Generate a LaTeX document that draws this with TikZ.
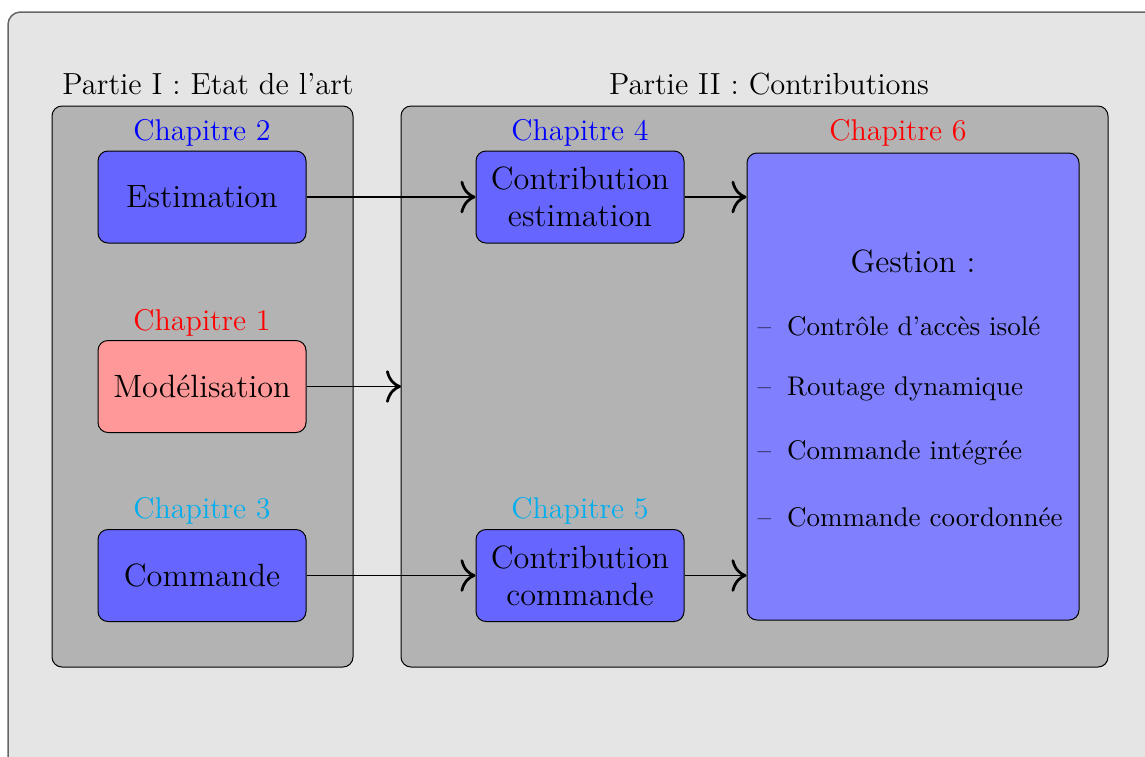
\documentclass[tikz,border=0pt]{standalone}
\usepackage{fontspec}
\usetikzlibrary{arrows.meta}
\definecolor{bgouter}{RGB}{229,229,229}
\definecolor{panel}{RGB}{179,179,179}
\definecolor{boxblue}{RGB}{102,102,255}
\definecolor{gestblue}{RGB}{128,128,255}
\definecolor{boxred}{RGB}{255,153,153}
\definecolor{chapcyan}{RGB}{0,174,239}
\tikzset{
  panelbox/.style={draw=black, fill=panel, rounded corners=4pt, line width=0.4pt},
  chapbox/.style={draw=black, rounded corners=4pt, minimum width=208*0.4pt, minimum height=92*0.4pt,
    align=center, font=\fontsize{12.9}{14.9}\selectfont, inner sep=0pt, line width=0.4pt},
  chaplabel/.style={font=\fontsize{12}{14}\selectfont},
  parttitle/.style={font=\fontsize{12.2}{14}\selectfont},
  flow/.style={draw=black, line width=0.5pt, -{Computer Modern Rightarrow[length=6pt, width=13pt, line width=1.1pt]}},
}
\begin{document}
\begin{tikzpicture}[x=0.4pt, y=-0.4pt]
\useasboundingbox (0,0) rectangle (1145,756);
% background sheet, running off the right and bottom edges
\draw[draw=gray!80!black, fill=bgouter, rounded corners=5pt, line width=0.6pt] (8,12) rectangle (1175,790);

% the two parts
\node[parttitle] (t1) at (208,84) {Partie I : Etat de l'art};
\node[parttitle] (t2) at (769,84) {Partie II : Contributions};
\draw[panelbox] (52,106) rectangle (353,667);
\draw[panelbox] (401,106) rectangle (1108,667);
\coordinate (p2west) at (401,386.5);

% state of the art chapters
\node[chaplabel, text=blue] (c2) at (202,133) {Chapitre 2};
\node[chapbox, fill=boxblue] (est) at (202,197) {Estimation};
\node[chaplabel, text=red] (c1) at (202,323) {Chapitre 1};
\node[chapbox, fill=boxred] (mod) at (202,386.5) {Modélisation};
\node[chaplabel, text=chapcyan] (c3) at (202,511) {Chapitre 3};
\node[chapbox, fill=boxblue] (com) at (202,575.5) {Commande};

% contribution chapters
\node[chaplabel, text=blue] (c4) at (580,133) {Chapitre 4};
\node[chapbox, fill=boxblue] (cest) at (580,197) {Contribution\\estimation};
\node[chaplabel, text=chapcyan] (c5) at (580,511) {Chapitre 5};
\node[chapbox, fill=boxblue] (ccom) at (580,575.5) {Contribution\\commande};

\node[chaplabel, text=red] (c6) at (898,133) {Chapitre 6};
\node[draw=black, fill=gestblue, rounded corners=4pt, minimum width=332*0.4pt, minimum height=467*0.4pt,
  inner sep=0pt, line width=0.4pt] (gest) at (913,386.5) {};
\node[font=\fontsize{12.9}{15}\selectfont] (gtitle) at (913,261) {Gestion :};
\foreach \y/\txt [count=\i] in {326/{Contrôle d'accès isolé}, 389/{Routage dynamique},
    453/{Commande intégrée}, 517/{Commande coordonnée}} {
  \node[anchor=west, inner sep=0pt, font=\fontsize{10.8}{13}\selectfont] (item\i) at (757,\y) {–\hspace{0.6em}\txt};
}

% connectors
\coordinate (gin1) at (gest.west |- cest.east);
\coordinate (gin2) at (gest.west |- ccom.east);
\draw[flow] (est.east) -- (cest.west);
\draw[flow] (mod.east) -- (p2west);
\draw[flow] (com.east) -- (ccom.west);
\draw[flow] (cest.east) -- (gin1);
\draw[flow] (ccom.east) -- (gin2);
\end{tikzpicture}
\end{document}
